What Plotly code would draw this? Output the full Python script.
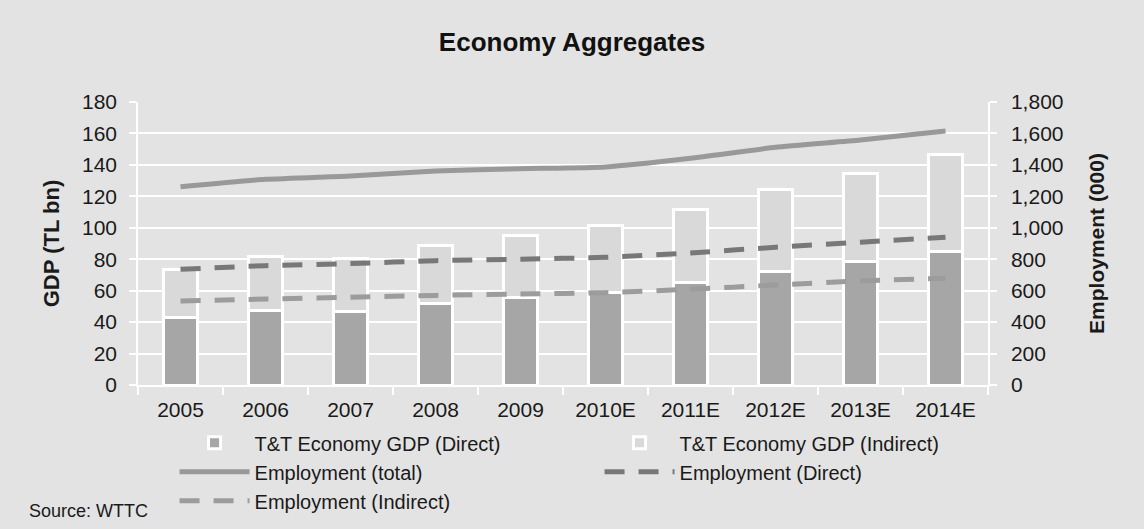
import plotly.graph_objects as go

years = ["2005", "2006", "2007", "2008", "2009", "2010E", "2011E", "2012E", "2013E", "2014E"]
gdp_direct = [43, 47.5, 46.6, 52, 55.8, 59, 65, 72.5, 78.5, 85.2]
gdp_indirect = [30.5, 34, 33.7, 36.8, 39.4, 42.3, 46.5, 52, 56.1, 61.3]
emp_total = [1261, 1308, 1330, 1361, 1376, 1387, 1442, 1512, 1558, 1616]
emp_direct = [736, 759, 772, 791, 800, 812, 840, 876, 908, 940]
emp_indirect = [534, 547, 558, 570, 579, 587, 609, 636, 662, 679]

FONT = "Liberation Sans, Arial, sans-serif"
BG = "#e3e3e3"

fig = go.Figure()
fig.add_trace(go.Bar(x=years, y=gdp_direct, name="T&T Economy GDP (Direct)",
                     marker=dict(color="#a6a6a6", line=dict(color="white", width=3)),
                     width=0.4))
fig.add_trace(go.Bar(x=years, y=gdp_indirect, name="T&T Economy GDP (Indirect)",
                     marker=dict(color="#d9d9d9", line=dict(color="white", width=3)),
                     width=0.4))
fig.add_trace(go.Scatter(x=years, y=emp_total, name="Employment (total)", yaxis="y2",
                         mode="lines", line=dict(color="#999999", width=5, shape="spline", smoothing=0.5)))
fig.add_trace(go.Scatter(x=years, y=emp_direct, name="Employment (Direct)", yaxis="y2",
                         mode="lines", line=dict(color="#787878", width=5, dash="20px,14px",
                                                 shape="spline", smoothing=0.5)))
fig.add_trace(go.Scatter(x=years, y=emp_indirect, name="Employment (Indirect)", yaxis="y2",
                         mode="lines", line=dict(color="#9c9c9c", width=5, dash="20px,14px",
                                                 shape="spline", smoothing=0.5)))

fig.update_layout(
    width=1144, height=529,
    paper_bgcolor=BG, plot_bgcolor=BG,
    barmode="stack",
    font=dict(family=FONT, size=21, color="#1a1a1a"),
    margin=dict(l=138, r=156, t=102, b=144, autoexpand=False),
    title=dict(text="<b>Economy Aggregates</b>", x=0.5, xanchor="center",
               y=1 - 42 / 529, yanchor="middle", font=dict(size=26, family=FONT, color="#111")),
    xaxis=dict(type="category", showgrid=False, showline=True, linecolor="white", linewidth=1.5,
               ticks="outside", tickson="boundaries", tickcolor="white", ticklen=8, tickwidth=1.5,
               ticklabelstandoff=5, tickfont=dict(size=21)),
    yaxis=dict(range=[0, 180], dtick=20, showgrid=True, gridcolor="white", gridwidth=1.5,
               showline=True, linecolor="white", linewidth=1.5, ticks="outside", tickcolor="white",
               ticklen=7, tickwidth=1.5, ticklabelstandoff=8, zeroline=False,
               tickfont=dict(size=21),
               title=dict(text="<b>GDP (TL bn)</b>", standoff=16, font=dict(size=22))),
    yaxis2=dict(range=[0, 1800], dtick=200, overlaying="y", side="right", showgrid=False,
                showline=True, linecolor="white", linewidth=1.5, ticks="outside", tickcolor="white",
                ticklen=7, tickwidth=1.5, ticklabelstandoff=10, tickformat=",d", zeroline=False,
                tickfont=dict(size=21),
                title=dict(text="<b>Employment (000)</b>", standoff=27, font=dict(size=21))),
    legend=dict(orientation="h", x=0.043, xanchor="left", y=-0.135, yanchor="top",
                entrywidthmode="fraction", entrywidth=0.5, traceorder="normal", itemwidth=70,
                bgcolor="rgba(0,0,0,0)", font=dict(size=20), tracegroupgap=0),
    annotations=[dict(text="Source: WTTC", xref="paper", yref="paper", x=-0.131, y=-0.445,
                      xanchor="left", yanchor="middle", showarrow=False, font=dict(size=18))],
)

fig.write_html("out.html")
